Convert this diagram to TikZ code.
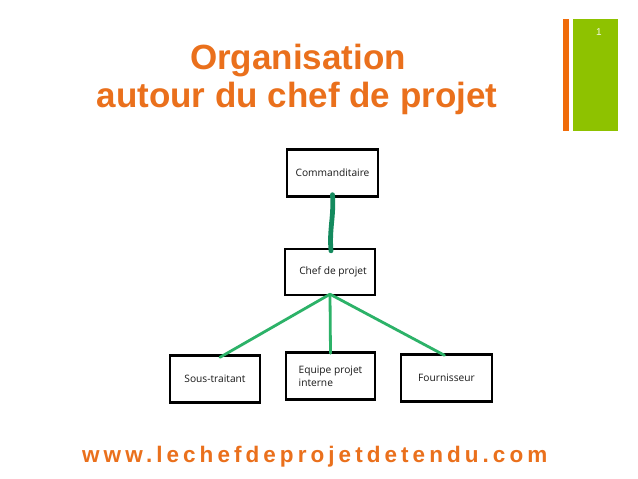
\documentclass[tikz,border=0pt]{standalone}
\usepackage{fontspec}
\setmainfont{Liberation Sans}
\newfontfamily\boxfont{Open Sans}
\usetikzlibrary{positioning}
\definecolor{titleorange}{RGB}{234,112,28}
\definecolor{barorange}{RGB}{240,108,10}
\definecolor{bargreen}{RGB}{142,194,0}
\definecolor{darkconn}{RGB}{20,138,94}
\definecolor{lightconn}{RGB}{44,178,104}
\tikzset{
  orgbox/.style={draw=black, line width=2.4pt, minimum width=#1, minimum height=47pt, inner sep=2pt, font=\boxfont\fontsize{10.2}{13}\selectfont, align=left, text=black!90},
  orgbox/.default=90pt,
  thickconn/.style={draw=darkconn, line width=4.8pt, line cap=round},
  thinconn/.style={draw=lightconn, line width=2.8pt, line cap=round},
  titletext/.style={text=titleorange, font=\bfseries\fontsize{35}{38}\selectfont, inner sep=0pt},
}
\begin{document}
\begin{tikzpicture}[x=1pt,y=-1pt]
\useasboundingbox (0,0) rectangle (638,479);
\fill[white] (0,0) rectangle (638,479);
% side bars
\fill[barorange] (563,19) rectangle (569,131);
\fill[bargreen] (573,19) rectangle (618,131);
\node[text=white!90!bargreen, font=\fontsize{10}{11}\selectfont, inner sep=0pt] (pnum) at (599,32) {1};
% title
\node[titletext, anchor=base] (t1) at (298,69) {Organisation};
\node[titletext, anchor=base] (t2) at (297,107) {autour du chef de projet};
% boxes
\node[orgbox=91pt] (cm) at (332.5,173) {Commanditaire};
\node[orgbox=90pt, minimum height=46pt] (chef) at (330,272) {\hspace*{6pt}Chef de projet};
\node[orgbox=90pt] (st) at (215,379) {Sous-traitant};
\node[orgbox=89pt] (eq) at (330.5,376) {Equipe projet\\interne};
\node[orgbox=91pt] (fo) at (446.5,378) {Fournisseur};
% connectors
\draw[thickconn] ([yshift=3pt]cm.south) to[out=-86,in=95] ([xshift=1pt,yshift=-3pt]chef.north);
\coordinate (hub) at ([yshift=2pt]chef.south);
\draw[thinconn] (hub) -- ([xshift=5pt,yshift=-3pt]st.north);
\draw[thinconn] (hub) -- ([yshift=-2pt]eq.north);
\draw[thinconn] (hub) -- ([xshift=-2pt,yshift=-2pt]fo.north);
% website
\node[text=titleorange, font=\bfseries\fontsize{22.5}{26}\selectfont\addfontfeature{LetterSpace=18}, anchor=base west, inner sep=0pt] (web) at (82,462) {www.lechefdeprojetdetendu.com};
\end{tikzpicture}
\end{document}
